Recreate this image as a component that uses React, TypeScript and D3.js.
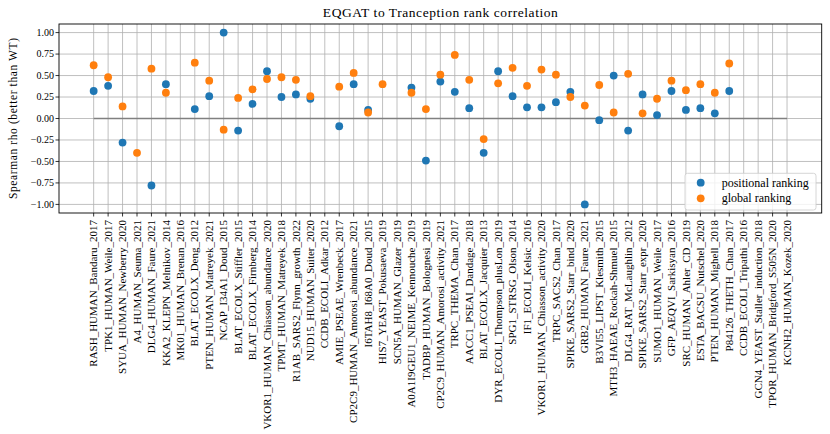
import React from 'react';
import * as d3 from 'd3';

// dataset names along the x axis
const categories = [
  'RASH_HUMAN_Bandaru_2017', 'TPK1_HUMAN_Weile_2017', 'SYUA_HUMAN_Newberry_2020',
  'A4_HUMAN_Seuma_2021', 'DLG4_HUMAN_Faure_2021', 'KKA2_KLEPN_Melnikov_2014',
  'MK01_HUMAN_Brenan_2016', 'BLAT_ECOLX_Deng_2012', 'PTEN_HUMAN_Matreyek_2021',
  'NCAP_I34A1_Doud_2015', 'BLAT_ECOLX_Stiffler_2015', 'BLAT_ECOLX_Firnberg_2014',
  'VKOR1_HUMAN_Chiasson_abundance_2020', 'TPMT_HUMAN_Matreyek_2018',
  'R1AB_SARS2_Flynn_growth_2022', 'NUD15_HUMAN_Suiter_2020', 'CCDB_ECOLI_Adkar_2012',
  'AMIE_PSEAE_Wrenbeck_2017', 'CP2C9_HUMAN_Amorosi_abundance_2021', 'I6TAH8_I68A0_Doud_2015',
  'HIS7_YEAST_Pokusaeva_2019', 'SCN5A_HUMAN_Glazer_2019', 'A0A1I9GEU1_NEIME_Kennouche_2019',
  'TADBP_HUMAN_Bolognesi_2019', 'CP2C9_HUMAN_Amorosi_activity_2021', 'TRPC_THEMA_Chan_2017',
  'AACC1_PSEAI_Dandage_2018', 'BLAT_ECOLX_Jacquier_2013', 'DYR_ECOLI_Thompson_plusLon_2019',
  'SPG1_STRSG_Olson_2014', 'IF1_ECOLI_Kelsic_2016', 'VKOR1_HUMAN_Chiasson_activity_2020',
  'TRPC_SACS2_Chan_2017', 'SPIKE_SARS2_Starr_bind_2020', 'GRB2_HUMAN_Faure_2021',
  'B3VI55_LIPST_Klesmith_2015', 'MTH3_HAEAE_Rockah-Shmuel_2015', 'DLG4_RAT_McLaughlin_2012',
  'SPIKE_SARS2_Starr_expr_2020', 'SUMO1_HUMAN_Weile_2017', 'GFP_AEQVI_Sarkisyan_2016',
  'SRC_HUMAN_Ahler_CD_2019', 'ESTA_BACSU_Nutschel_2020', 'PTEN_HUMAN_Mighell_2018',
  'P84126_THETH_Chan_2017', 'CCDB_ECOLI_Tripathi_2016', 'GCN4_YEAST_Staller_induction_2018',
  'TPOR_HUMAN_Bridgford_S505N_2020', 'KCNH2_HUMAN_Kozek_2020',
];

// null = no point drawn
const positional: (number | null)[] = [
  0.32, 0.38, -0.28, null, -0.78, 0.40, null, 0.11, 0.26, 1.00,
  -0.14, 0.17, 0.55, 0.25, 0.28, 0.23, null, -0.09, 0.40, 0.10,
  null, null, 0.36, -0.49, 0.43, 0.31, 0.12, -0.40, 0.55, 0.26,
  0.13, 0.13, 0.19, 0.31, -1.00, -0.02, 0.50, -0.14, 0.28, 0.04,
  0.32, 0.10, 0.12, 0.06, 0.32, null, null, null, null,
];

const global: (number | null)[] = [
  0.62, 0.48, 0.14, -0.40, 0.58, 0.30, null, 0.65, 0.44, -0.13,
  0.24, 0.34, 0.46, 0.48, 0.45, 0.26, null, 0.37, 0.53, 0.07,
  0.40, null, 0.30, 0.11, 0.51, 0.74, 0.45, -0.24, 0.41, 0.59,
  0.38, 0.57, 0.51, 0.25, 0.15, 0.39, 0.07, 0.52, 0.06, 0.23,
  0.44, 0.33, 0.40, 0.30, 0.64, null, null, null, null,
];

const yTicks = [-1, -0.75, -0.5, -0.25, 0, 0.25, 0.5, 0.75, 1];

const W = 830;
const H = 434;
const left = 59;
const right = 821.7;
const top = 24;
const bottom = 213;
const BLUE = '#1f77b4';
const ORANGE = '#ff7f0e';
const FONT = '"Liberation Serif", "Times New Roman", serif';

const fmt = (v: number) => d3.format('.2f')(v).replace('-', '\u2212');

export default function App() {
  const n = categories.length;
  const pad = (n - 1) * 0.05;
  const x = d3.scaleLinear().domain([-pad, n - 1 + pad]).range([left, right]);
  const y = d3.scaleLinear().domain([-1.1, 1.1]).range([bottom, top]);

  const dots = (vals: (number | null)[], color: string) =>
    vals.map((v, i) =>
      v === null ? null : <circle key={i} cx={x(i)} cy={y(v)} r={3.9} fill={color} />
    );

  return (
    <svg
      width={W}
      height={H}
      style={{ position: 'absolute', left: 0, top: 0, background: '#fff' }}
      fontFamily={FONT}
    >
      {/* grid */}
      <g stroke="#b0b0b0" strokeWidth={0.8}>
        {categories.map((_, i) => (
          <line key={i} x1={x(i)} x2={x(i)} y1={top} y2={bottom} />
        ))}
        {yTicks.map((t) => (
          <line key={t} x1={left} x2={right} y1={y(t)} y2={y(t)} />
        ))}
      </g>

      {/* zero reference line */}
      <line x1={x(0)} x2={x(n - 1)} y1={y(0)} y2={y(0)} stroke="#808080" strokeWidth={1.4} />

      {dots(positional, BLUE)}
      {dots(global, ORANGE)}

      {/* frame */}
      <rect x={left} y={top} width={right - left} height={bottom - top} fill="none" stroke="#000" strokeWidth={0.9} />

      {/* y axis */}
      <g fontSize={10} textAnchor="end">
        {yTicks.map((t) => (
          <g key={t}>
            <line x1={left - 3.5} x2={left} y1={y(t)} y2={y(t)} stroke="#000" strokeWidth={0.8} />
            <text x={left - 5} y={y(t)} dy="0.33em">{fmt(t)}</text>
          </g>
        ))}
      </g>
      <text
        transform={`translate(17,${(top + bottom) / 2}) rotate(-90)`}
        textAnchor="middle"
        fontSize={11.5}
        textLength={161}
        lengthAdjust="spacing"
      >
        Spearman rho (better than WT)
      </text>

      {/* x axis */}
      <g fontSize={11} textAnchor="end">
        {categories.map((c, i) => (
          <g key={c}>
            <line x1={x(i)} x2={x(i)} y1={bottom} y2={bottom + 3.5} stroke="#000" strokeWidth={0.8} />
            <text transform={`translate(${x(i)},${bottom + 7}) rotate(-90)`} dy="0.33em">{c}</text>
          </g>
        ))}
      </g>

      {/* title */}
      <text
        x={(left + right) / 2}
        y={17}
        textAnchor="middle"
        fontSize={13.5}
        textLength={235}
        lengthAdjust="spacing"
      >
        EQGAT to Tranception rank correlation
      </text>

      {/* legend */}
      <g>
        <rect x={685} y={173.3} width={131} height={36.7} rx={2.5} fill="#fff" fillOpacity={0.8} stroke="#cccccc" strokeWidth={0.8} />
        <circle cx={700.7} cy={182.7} r={3.9} fill={BLUE} />
        <circle cx={700.7} cy={198.3} r={3.9} fill={ORANGE} />
        <text x={721.7} y={182.7} dy="0.33em" fontSize={12}>positional ranking</text>
        <text x={721.7} y={198.3} dy="0.33em" fontSize={12}>global ranking</text>
      </g>
    </svg>
  );
}
